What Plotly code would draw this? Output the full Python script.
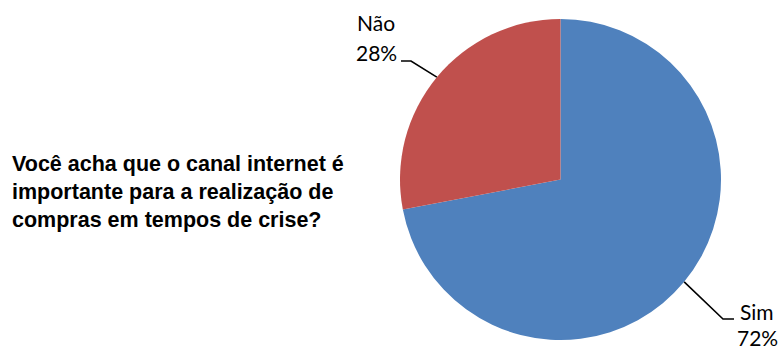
import math
import plotly.graph_objects as go

# Survey answers and their shares
labels = ["Sim", "Não"]
values = [72, 28]
colors = ["#4F81BD", "#C0504D"]
question_lines = [
    "Você acha que o canal internet é",
    "importante para a realização de",
    "compras em tempos de crise?",
]

W, H = 781, 349
cx, cy, r = 560.5, 179.5, 160.5  # pie centre and radius in pixels


def px(x):
    return x / W


def py(y):
    return 1 - y / H


total = sum(values)
fig = go.Figure(
    go.Pie(
        labels=labels,
        values=values,
        marker=dict(colors=colors, line=dict(width=0)),
        sort=False,
        direction="clockwise",
        rotation=0,
        textinfo="none",
        hoverinfo="label+percent",
        showlegend=False,
        domain=dict(x=[px(cx - r), px(cx + r)], y=[py(cy + r), py(cy - r)]),
    )
)


def edge_point(idx):
    """Point on the rim at the middle angle of slice idx (clockwise from 12 o'clock)."""
    start = sum(values[:idx]) / total
    mid = (start + values[idx] / total / 2) * 2 * math.pi
    return cx + r * math.sin(mid), cy - r * math.cos(mid)


line_style = dict(color="black", width=1.6)

# leader line for "Sim" (lower right)
ex, ey = edge_point(0)
fig.add_shape(
    type="path",
    xref="paper", yref="paper",
    path=f"M {px(ex)} {py(ey)} L {px(723)} {py(319)} L {px(734)} {py(319)}",
    line=line_style,
)
# leader line for "Não" (upper left)
ex, ey = edge_point(1)
fig.add_shape(
    type="path",
    xref="paper", yref="paper",
    path=f"M {px(401)} {py(61)} L {px(411)} {py(61)} L {px(ex)} {py(ey)}",
    line=line_style,
)

label_font = dict(family="Lato, Liberation Sans, Arial", size=21, color="black")
label_pos = {"Sim": (757, 311, 337), "Não": (376, 23, 52)}
for lab, val in zip(labels, values):
    x, y1, y2 = label_pos[lab]
    fig.add_annotation(x=px(x), y=py(y1), xref="paper", yref="paper",
                       text=lab, showarrow=False, font=label_font,
                       xanchor="center", yanchor="middle")
    fig.add_annotation(x=px(x), y=py(y2), xref="paper", yref="paper",
                       text=f"{round(val / total * 100)}%", showarrow=False,
                       font=label_font, xanchor="center", yanchor="middle")

fig.add_annotation(
    x=px(10), y=py(192), xref="paper", yref="paper",
    text="<b>" + "<br>".join(question_lines) + "</b>",
    showarrow=False, align="left", xanchor="left", yanchor="middle",
    font=dict(family="Liberation Sans, Arial", size=21.5, color="black"),
)

fig.update_layout(
    width=W, height=H,
    margin=dict(l=0, r=0, t=0, b=0),
    paper_bgcolor="white",
    plot_bgcolor="white",
)

fig.write_html("out.html")
